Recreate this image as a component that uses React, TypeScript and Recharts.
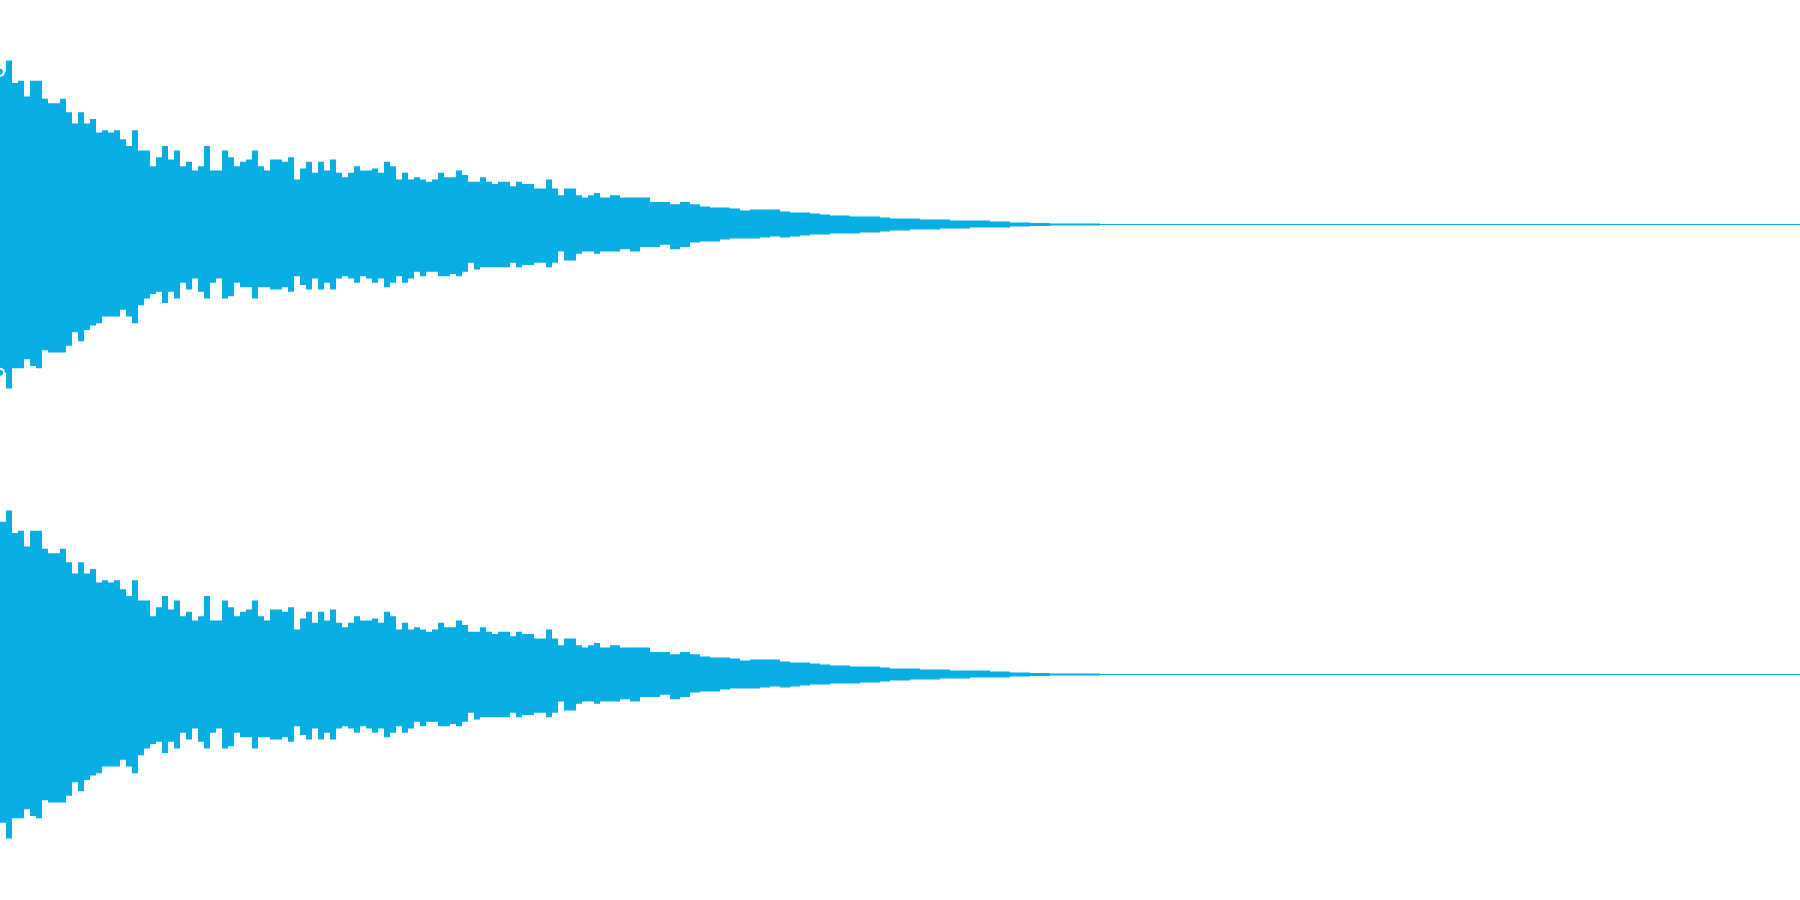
import { Area, AreaChart, ReferenceLine, XAxis, YAxis } from 'recharts';

// амплитуда в % от полной шкалы, время в мс (1800 мс на всю ширину)
// 0–600 мс, шаг 6 мс
const upperA = [
  68, 73, 63, 64, 57, 64, 64, 56, 54, 54, 56, 50, 45, 50, 45, 47, 41, 42, 41, 42, 38, 35, 42, 33, 33,
  26, 30, 35, 29, 33, 26, 28, 24, 26, 35, 24, 24, 33, 30, 26, 28, 29, 33, 26, 24, 29, 29, 28, 30, 20,
  25, 28, 23, 28, 24, 29, 23, 21, 23, 26, 24, 24, 25, 23, 28, 26, 20, 23, 20, 21, 20, 19, 20, 23, 21,
  21, 24, 22, 19, 19, 21, 19, 18, 19, 19, 17, 19, 18, 18, 16, 16, 20, 16, 13, 16, 16, 13, 12, 13, 14,
];
const lowerA = [
  66, 73, 64, 64, 60, 63, 64, 56, 57, 57, 57, 54, 48, 52, 47, 45, 44, 41, 41, 41, 38, 41, 44, 36, 33,
  31, 30, 35, 30, 33, 26, 29, 24, 30, 33, 26, 24, 33, 32, 26, 28, 28, 33, 28, 28, 29, 29, 28, 30, 23,
  27, 29, 24, 29, 26, 29, 24, 23, 24, 26, 23, 24, 26, 24, 28, 26, 23, 26, 24, 21, 23, 21, 21, 23, 23,
  22, 23, 21, 17, 20, 19, 19, 19, 19, 19, 17, 19, 18, 18, 17, 17, 19, 17, 12, 16, 16, 13, 12, 12, 13,
];

// 600–850 мс, шаг 10 мс
const upperB = [
  12, 13, 12, 12, 12, 10, 10, 9, 10, 9, 8, 7.6, 7.6, 7.1, 6.2, 6.7, 6.7, 6.7, 5.8, 5.3, 5.3, 4.9, 4.4, 4, 4,
];
const lowerB = [
  12, 12, 11, 12, 10, 10, 9, 11, 10, 8, 7.6, 7.6, 6.7, 6.2, 6.2, 6.2, 5.8, 5.3, 5.8, 5.3, 4.9, 4.4, 4.4, 4, 4,
];

// 850–1100 мс, шаг 10 мс (затухание)
const upperC = [
  3.6, 3.6, 3.6, 3.1, 2.7, 2.7, 2.7, 2.2, 2.2, 2.2, 1.8, 1.8, 1.8, 1.8, 1.3, 1.3, 0.9, 0.9, 0.7, 0.7, 0.4, 0.4, 0.4, 0.4, 0.4,
];
const lowerC = [
  4, 3.6, 3.6, 3.1, 2.7, 2.7, 2.2, 2.2, 2.2, 1.8, 1.8, 1.8, 1.3, 1.3, 1.3, 1.3, 0.9, 0.9, 0.7, 0.7, 0.4, 0.4, 0.4, 0.4, 0.4,
];

const segments = [
  { start: 0, step: 6, upper: upperA, lower: lowerA },
  { start: 600, step: 10, upper: upperB, lower: lowerB },
  { start: 850, step: 10, upper: upperC, lower: lowerC },
];

const DURATION = 1800;
const END_OF_SOUND = 1100;
const COLOR = '#07aee3';

const data: { t: number; range: [number, number] }[] = [];
segments.forEach(({ start, step, upper, lower }) => {
  upper.forEach((u, i) => {
    data.push({ t: start + i * step, range: [-lower[i], u] });
  });
});
data.push({ t: END_OF_SOUND, range: [0, 0] });
data.push({ t: DURATION, range: [0, 0] });

function Channel() {
  return (
    // bottom: 1 — чтобы нулевая линия легла ровно в один пиксель
    <AreaChart width={1800} height={450} data={data} margin={{ top: 0, right: 0, bottom: 1, left: 0 }}>
      <XAxis dataKey="t" type="number" domain={[0, DURATION]} hide />
      <YAxis domain={[-100, 100]} hide />
      <ReferenceLine y={0} stroke={COLOR} strokeWidth={1} />
      <Area
        type="stepAfter"
        dataKey="range"
        stroke="none"
        fill={COLOR}
        fillOpacity={1}
        isAnimationActive={false}
      />
    </AreaChart>
  );
}

export default function App() {
  return (
    <div style={{ position: 'absolute', left: 0, top: 0, width: 1800, height: 900, background: '#fff' }}>
      <Channel />
      <Channel />
    </div>
  );
}
